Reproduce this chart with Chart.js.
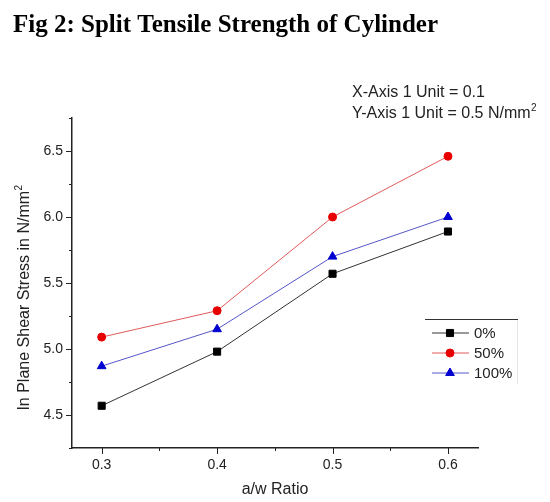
<!DOCTYPE html>
<html lang="en">
<head>
  <meta charset="UTF-8">
  <title>Split Tensile Strength of Cylinder</title>
  <style>
    html, body {
      margin: 0;
      padding: 0;
      background: #fff;
    }
    #wrap {
      position: relative;
      width: 550px;
      height: 502px;
    }
  </style>
  <script src="https://cdn.jsdelivr.net/npm/chart.js"></script>
</head>
<body>
  <div id="wrap">
    <canvas id="myChart" width="550" height="502"></canvas>
  </div>

  <script>
    // data
    const ratios = [0.3, 0.4, 0.5, 0.6];
    const series0 = [4.57, 4.98, 5.57, 5.89];
    const series50 = [5.09, 5.29, 6.00, 6.46];
    const series100 = [4.87, 5.15, 5.70, 6.00];
    const seriesNames = ['0%', '50%', '100%'];
    const xTicks = [0.3, 0.35, 0.4, 0.45, 0.5, 0.55, 0.6];

    const pairs = (ys) => ratios.map((x, i) => ({ x: x, y: ys[i] }));
    const isMajor = (v, step) => Math.abs(v / step - Math.round(v / step)) < 1e-6;

    // title, notes, axis titles, tick marks and legend
    const extras = {
      id: 'extras',
      afterDraw(chart) {
        const ctx = chart.ctx;
        const area = chart.chartArea;
        const xs = chart.scales.x;
        const ys = chart.scales.y;
        ctx.save();

        // tick marks (outward)
        ctx.strokeStyle = '#222';
        ctx.lineWidth = 1;
        xs.ticks.forEach(t => {
          const px = Math.round(xs.getPixelForValue(t.value)) + 0.5;
          const len = isMajor(t.value, 0.1) ? 6 : 3;
          ctx.beginPath();
          ctx.moveTo(px, area.bottom);
          ctx.lineTo(px, area.bottom + len);
          ctx.stroke();
        });
        ys.ticks.forEach(t => {
          const py = Math.round(ys.getPixelForValue(t.value)) + 0.5;
          const len = isMajor(t.value, 0.5) ? 6 : 3;
          ctx.beginPath();
          ctx.moveTo(area.left, py);
          ctx.lineTo(area.left - len, py);
          ctx.stroke();
        });

        // figure title
        ctx.fillStyle = '#000';
        ctx.font = "bold 25px 'Liberation Serif', 'Times New Roman', serif";
        ctx.textAlign = 'left';
        ctx.textBaseline = 'alphabetic';
        ctx.fillText('Fig 2: Split Tensile Strength of Cylinder', 13, 32);

        // unit notes
        ctx.fillStyle = '#222';
        ctx.font = "16px 'Liberation Sans', Arial, sans-serif";
        ctx.textBaseline = 'middle';
        ctx.fillText('X-Axis 1 Unit = 0.1', 352, 93);
        const l2 = 'Y-Axis 1 Unit = 0.5 N/mm';
        ctx.fillText(l2, 352, 114);
        const w2 = ctx.measureText(l2).width;
        ctx.font = "10px 'Liberation Sans', Arial, sans-serif";
        ctx.fillText('2', 352 + w2 + 0.5, 108);

        // x axis title
        ctx.font = "16px 'Liberation Sans', Arial, sans-serif";
        ctx.textAlign = 'center';
        ctx.fillText('a/w Ratio', 275, 490);

        // y axis title, rotated
        ctx.save();
        ctx.translate(25, 298);
        ctx.rotate(-Math.PI / 2);
        ctx.font = "16px 'Liberation Sans', Arial, sans-serif";
        const yt = 'In Plane Shear Stress in N/mm';
        const wt = ctx.measureText(yt).width;
        ctx.font = "10px 'Liberation Sans', Arial, sans-serif";
        const ws = ctx.measureText('2').width;
        const x0 = -(wt + ws) / 2;
        ctx.textAlign = 'left';
        ctx.font = "16px 'Liberation Sans', Arial, sans-serif";
        ctx.fillText(yt, x0, 0);
        ctx.font = "10px 'Liberation Sans', Arial, sans-serif";
        ctx.fillText('2', x0 + wt + 0.5, -6);
        ctx.restore();

        // legend box
        ctx.strokeStyle = '#333';
        ctx.lineWidth = 1;
        ctx.beginPath();
        ctx.moveTo(425, 319.5);
        ctx.lineTo(518, 319.5);
        ctx.stroke();
        ctx.strokeStyle = '#e4e4e4';
        ctx.beginPath();
        ctx.moveTo(517.5, 320);
        ctx.lineTo(517.5, 384);
        ctx.stroke();

        ctx.font = "15px 'Liberation Sans', Arial, sans-serif";
        ctx.textAlign = 'left';
        ctx.textBaseline = 'middle';
        chart.data.datasets.forEach((ds, i) => {
          const cy = 333 + i * 20;
          ctx.strokeStyle = ds.borderColor;
          ctx.lineWidth = ds.borderWidth;
          ctx.beginPath();
          ctx.moveTo(432, cy);
          ctx.lineTo(469, cy);
          ctx.stroke();
          ctx.fillStyle = ds.pointBackgroundColor;
          ctx.strokeStyle = ds.pointBorderColor;
          ctx.lineWidth = 1;
          Chart.helpers.drawPoint(ctx, {
            pointStyle: ds.pointStyle,
            radius: ds.pointRadius,
            rotation: 0,
            borderWidth: 1
          }, 450, cy);
          ctx.fillStyle = '#222';
          ctx.fillText(ds.label, 474, cy + 1);
        });

        ctx.restore();
      }
    };

    const ctx = document.getElementById('myChart').getContext('2d');
    const myChart = new Chart(ctx, {
      type: 'line',
      data: {
        datasets: [{
          label: seriesNames[0],
          data: pairs(series0),
          borderColor: '#333333',
          borderWidth: 1,
          pointStyle: 'rect',
          pointRadius: 5,
          pointBackgroundColor: '#000000',
          pointBorderColor: '#000000',
          pointBorderWidth: 1
        }, {
          label: seriesNames[1],
          data: pairs(series50),
          borderColor: '#e05a5a',
          borderWidth: 1,
          pointStyle: 'circle',
          pointRadius: 4,
          pointBackgroundColor: '#e80000',
          pointBorderColor: '#e80000',
          pointBorderWidth: 1
        }, {
          label: seriesNames[2],
          data: pairs(series100),
          borderColor: '#5555c8',
          borderWidth: 1,
          pointStyle: 'triangle',
          pointRadius: 5,
          pointBackgroundColor: '#0000d0',
          pointBorderColor: '#0000d0',
          pointBorderWidth: 1
        }]
      },
      options: {
        responsive: false,
        animation: false,
        events: [],
        layout: { padding: { top: 118, right: 72, left: 0, bottom: 0 } },
        plugins: {
          legend: { display: false },
          title: { display: false },
          tooltip: { enabled: false }
        },
        scales: {
          x: {
            type: 'linear',
            min: 0.2743,
            max: 0.626,
            afterBuildTicks: (s) => { s.ticks = xTicks.map(v => ({ value: v })); },
            afterFit: (s) => { s.height = 54; },
            grid: { display: false, drawTicks: false },
            border: { display: true, color: '#222', width: 1.5 },
            ticks: {
              autoSkip: false,
              maxRotation: 0,
              padding: 9,
              color: '#222',
              font: { family: "'Liberation Sans', Arial, sans-serif", size: 14 },
              callback: (v) => isMajor(v, 0.1) ? v.toFixed(1) : ''
            }
          },
          y: {
            min: 4.25,
            max: 6.75,
            afterFit: (s) => { s.width = 72; },
            grid: { display: false, drawTicks: false },
            border: { display: true, color: '#222', width: 1.5 },
            ticks: {
              stepSize: 0.25,
              autoSkip: false,
              padding: 9,
              color: '#222',
              font: { family: "'Liberation Sans', Arial, sans-serif", size: 14 },
              callback: (v) => isMajor(v, 0.5) ? v.toFixed(1) : ''
            }
          }
        }
      },
      plugins: [extras]
    });
  </script>
</body>
</html>
